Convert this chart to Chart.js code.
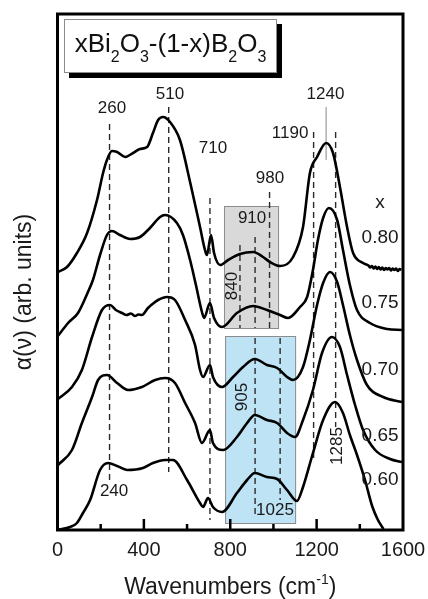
<!DOCTYPE html>
<html>
<head>
<meta charset="utf-8">
<script src="https://cdn.jsdelivr.net/npm/chart.js@4.4.1/dist/chart.umd.min.js"></script>
<style>
  html, body { margin: 0; padding: 0; background: #fff; }
  #wrap { width: 428px; height: 599px; position: relative; }
</style>
</head>
<body>
<div id="wrap"><canvas id="spectra"></canvas></div>
<script>
// IR absorption spectra of xBi2O3-(1-x)B2O3 glasses, curves stacked with offset
const FONT = '"Liberation Sans", Arial, Helvetica, sans-serif';
const xTicks = [0, 400, 800, 1200, 1600];
const compositions = ['0.80', '0.75', '0.70', '0.65', '0.60'];

const wn80 = [2, 44, 90, 137, 183, 211, 229, 252, 276, 313, 350, 382, 415, 442, 466, 489, 521, 567, 614, 660, 683, 692, 711, 725, 753, 790, 845, 906, 952, 984, 1031, 1091, 1137, 1169, 1202, 1244, 1276, 1308, 1341, 1369, 1415, 1440, 1448, 1456, 1464, 1472, 1480, 1488, 1496, 1504, 1512, 1520, 1528, 1536, 1544, 1552, 1560, 1568, 1576, 1584, 1592];
const abs80 = [5.16, 5.26, 5.54, 5.94, 6.60, 7.14, 7.40, 7.58, 7.56, 7.46, 7.54, 7.62, 7.66, 7.94, 8.20, 8.26, 8.16, 7.80, 6.96, 6.06, 5.60, 5.50, 5.90, 5.54, 5.30, 5.40, 5.52, 5.56, 5.46, 5.36, 5.28, 5.46, 6.06, 7.14, 7.46, 7.74, 7.54, 6.86, 6.06, 5.54, 5.34, 5.29, 5.25, 5.28, 5.23, 5.27, 5.22, 5.26, 5.21, 5.25, 5.20, 5.24, 5.21, 5.24, 5.19, 5.23, 5.20, 5.23, 5.18, 5.22, 5.20];

const wn75 = [2, 49, 95, 141, 164, 197, 229, 252, 289, 336, 382, 428, 475, 498, 553, 581, 614, 641, 669, 679, 706, 725, 762, 831, 906, 970, 1031, 1068, 1123, 1156, 1183, 1206, 1230, 1257, 1295, 1322, 1354, 1387, 1447, 1526, 1595];
const abs75 = [3.88, 4.14, 4.34, 4.76, 5.00, 5.50, 5.90, 5.98, 5.90, 5.82, 5.86, 6.04, 6.26, 6.30, 6.14, 5.90, 5.40, 4.90, 4.36, 4.24, 4.54, 4.24, 4.06, 4.34, 4.48, 4.40, 4.30, 4.24, 4.46, 4.66, 5.20, 5.80, 6.24, 6.44, 6.20, 5.60, 4.90, 4.40, 4.14, 4.02, 4.00];

const wn70 = [2, 67, 113, 160, 206, 243, 270, 299, 320, 340, 359, 375, 391, 419, 440, 466, 507, 544, 591, 637, 660, 674, 706, 720, 762, 813, 859, 914, 970, 1017, 1063, 1091, 1137, 1169, 1202, 1230, 1262, 1295, 1322, 1354, 1387, 1433, 1508, 1595];
const abs70 = [2.62, 2.86, 3.20, 3.86, 4.40, 4.50, 4.40, 4.34, 4.30, 4.33, 4.28, 4.31, 4.30, 4.44, 4.52, 4.60, 4.66, 4.60, 4.20, 3.70, 3.20, 3.06, 3.30, 3.06, 2.86, 3.06, 3.26, 3.42, 3.30, 3.24, 3.06, 3.00, 3.26, 3.80, 4.50, 4.94, 5.16, 4.96, 4.50, 3.90, 3.40, 2.90, 2.66, 2.56];

const wn65 = [2, 67, 113, 160, 188, 229, 276, 326, 391, 452, 498, 544, 591, 637, 669, 706, 720, 767, 831, 878, 914, 970, 1017, 1063, 1100, 1137, 1183, 1225, 1271, 1308, 1341, 1378, 1415, 1471, 1540, 1595];
const abs65 = [1.30, 1.60, 2.14, 2.66, 3.00, 3.10, 2.94, 2.80, 2.86, 3.00, 3.04, 2.94, 2.54, 2.14, 1.74, 2.00, 1.74, 1.60, 1.86, 2.14, 2.30, 2.20, 2.14, 1.94, 1.86, 2.20, 2.80, 3.54, 3.86, 3.66, 3.10, 2.50, 2.00, 1.60, 1.42, 1.36];

const wn60 = [2, 58, 90, 118, 151, 197, 234, 276, 322, 396, 442, 498, 535, 600, 660, 674, 697, 720, 762, 831, 878, 914, 970, 1017, 1063, 1109, 1137, 1183, 1230, 1285, 1322, 1354, 1387, 1424, 1457, 1484, 1510];
const abs60 = [0.00, 0.06, 0.14, 0.34, 0.60, 1.20, 1.34, 1.28, 1.20, 1.24, 1.34, 1.40, 1.40, 1.00, 0.54, 0.46, 0.64, 0.46, 0.36, 0.74, 1.00, 1.14, 1.06, 1.02, 0.80, 0.58, 0.86, 1.54, 2.20, 2.56, 2.34, 1.90, 1.50, 1.00, 0.48, 0.20, 0.02];

// vertical dashed guides: band position and vertical extent
const markerWn     = [241, 515, 706, 845, 915, 982, 915, 1031, 1186, 1288];
const markerTop    = [8.12, 8.46, 6.64, 5.70, 5.86, 6.76, 3.84, 3.84, 7.96, 7.96];
const markerBottom = [1.00, 1.16, 0.20, 4.04, 4.04, 4.04, 0.30, 0.60, 1.40, 2.06];
const solidWn = 1244, solidTop = 8.46, solidBottom = 7.40;

// shaded regions
const boxFrom   = [771, 776];
const boxTo     = [1026, 1105];
const boxTop    = [6.48, 3.88];
const boxBottom = [4.02, 0.12];
const boxFill   = ['#d9d9d9', '#bde3f5'];

// band labels
const labelText = ['260', '510', '710', '980', '910', '1190', '1240', '240', '1025'];
const labelWn   = [252, 521, 720, 984, 901, 1077, 1241, 262, 1007];
const labelAbs  = [8.44, 8.72, 7.64, 7.04, 6.24, 7.94, 8.72, 0.78, 0.40];
const vertText  = ['840', '905', '1285'];
const vertWn    = [809, 855, 1295];
const vertAbs   = [4.88, 2.66, 1.68];
const compWn    = 1494;
const compAbs   = [5.84, 4.54, 3.20, 1.88, 1.00];

const curves = [[wn80, abs80], [wn75, abs75], [wn70, abs70], [wn65, abs65], [wn60, abs60]];

const curveSets = curves.map(([wn, a], i) => ({
  label: compositions[i],
  data: wn.map((v, k) => ({ x: v, y: a[k] })),
  borderColor: '#000',
  borderWidth: 2.6,
  pointRadius: 0,
  cubicInterpolationMode: 'monotone',
  fill: false
}));

const markerSets = markerWn.map((w, i) => ({
  data: [{ x: w, y: markerTop[i] }, { x: w, y: markerBottom[i] }],
  borderColor: '#2a2a2a',
  borderWidth: 1.4,
  borderDash: [6, 4],
  pointRadius: 0
}));
markerSets.push({
  data: [{ x: solidWn, y: solidTop }, { x: solidWn, y: solidBottom }],
  borderColor: '#9a9a9a',
  borderWidth: 1.2,
  pointRadius: 0
});

const decor = {
  id: 'decor',
  beforeDatasetsDraw(chart) {
    const { ctx, scales: { x, y } } = chart;
    ctx.save();
    boxFrom.forEach((f, i) => {
      const l = x.getPixelForValue(f), r = x.getPixelForValue(boxTo[i]);
      const t = y.getPixelForValue(boxTop[i]), b = y.getPixelForValue(boxBottom[i]);
      ctx.fillStyle = boxFill[i];
      ctx.fillRect(l, t, r - l, b - t);
      ctx.strokeStyle = '#8c8c8c';
      ctx.lineWidth = 1;
      ctx.strokeRect(l + 0.5, t + 0.5, r - l - 1, b - t - 1);
    });
    ctx.restore();
  },
  afterDatasetsDraw(chart) {
    const { ctx, chartArea: a, scales: { x, y } } = chart;
    ctx.save();

    // frame
    ctx.strokeStyle = '#000';
    ctx.lineWidth = 3;
    ctx.strokeRect(a.left, a.top, a.right - a.left, a.bottom - a.top);

    // inward ticks, major every 400, minor every 200
    ctx.lineWidth = 2.5;
    for (let v = 200; v < 1600; v += 200) {
      const px = x.getPixelForValue(v);
      const len = v % 400 === 0 ? 11 : 6;
      ctx.beginPath();
      ctx.moveTo(px, a.bottom);
      ctx.lineTo(px, a.bottom - len);
      ctx.stroke();
    }

    // band labels
    ctx.fillStyle = '#1a1a1a';
    ctx.textAlign = 'center';
    ctx.textBaseline = 'middle';
    ctx.font = `17px ${FONT}`;
    labelText.forEach((t, i) => ctx.fillText(t, x.getPixelForValue(labelWn[i]), y.getPixelForValue(labelAbs[i])));
    vertText.forEach((t, i) => {
      ctx.save();
      ctx.translate(x.getPixelForValue(vertWn[i]), y.getPixelForValue(vertAbs[i]));
      ctx.rotate(-Math.PI / 2);
      ctx.fillText(t, 0, 0);
      ctx.restore();
    });

    // composition labels
    ctx.font = `19px ${FONT}`;
    const cx = x.getPixelForValue(compWn);
    ctx.fillText('x', cx, y.getPixelForValue(6.54));
    compositions.forEach((c, i) => ctx.fillText(c, cx, y.getPixelForValue(compAbs[i])));

    // formula box with shadow
    const bx = a.left + 6.5, by = a.top + 5, bw = 213, bh = 54;
    ctx.fillStyle = '#000';
    ctx.fillRect(bx + 5, by + 5, bw, bh);
    ctx.fillStyle = '#fff';
    ctx.fillRect(bx, by, bw, bh);
    ctx.strokeStyle = '#8c8c8c';
    ctx.lineWidth = 1;
    ctx.strokeRect(bx + 0.5, by + 0.5, bw - 1, bh - 1);
    const parts = [['xBi', 0], ['2', 1], ['O', 0], ['3', 1], ['-(1-x)B', 0], ['2', 1], ['O', 0], ['3', 1]];
    let total = 0;
    parts.forEach(([t, s]) => { ctx.font = s ? `16px ${FONT}` : `26px ${FONT}`; total += ctx.measureText(t).width; });
    let tx = bx + bw / 2 - total / 2;
    ctx.textAlign = 'left';
    ctx.textBaseline = 'alphabetic';
    ctx.fillStyle = '#111';
    parts.forEach(([t, s]) => {
      ctx.font = s ? `16px ${FONT}` : `26px ${FONT}`;
      ctx.fillText(t, tx, s ? by + 43 : by + 33);
      tx += ctx.measureText(t).width;
    });

    // axis titles
    ctx.fillStyle = '#1a1a1a';
    const xt = [['Wavenumbers (cm', 0], ['-1', 1], [')', 0]];
    total = 0;
    xt.forEach(([t, s]) => { ctx.font = s ? `14px ${FONT}` : `23px ${FONT}`; total += ctx.measureText(t).width; });
    tx = (a.left + a.right) / 2 - total / 2;
    xt.forEach(([t, s]) => {
      ctx.font = s ? `14px ${FONT}` : `23px ${FONT}`;
      ctx.fillText(t, tx, s ? 584 : 594);
      tx += ctx.measureText(t).width;
    });

    ctx.translate(25, 292);
    ctx.rotate(-Math.PI / 2);
    ctx.textAlign = 'center';
    ctx.textBaseline = 'middle';
    ctx.font = `23px ${FONT}`;
    ctx.fillText('\u03B1(\u03BD) (arb. units)', 0, 0);
    ctx.restore();
  }
};

new Chart(document.getElementById('spectra'), {
  type: 'line',
  data: { datasets: [...curveSets, ...markerSets] },
  options: {
    responsive: true,
    maintainAspectRatio: false,
    animation: false,
    layout: { padding: { left: 57.5, right: 25, top: 14, bottom: 0 } },
    plugins: { legend: { display: false }, tooltip: { enabled: false } },
    scales: {
      x: {
        type: 'linear', min: 0, max: 1600,
        afterBuildTicks: s => { s.ticks = xTicks.map(v => ({ value: v })); },
        afterFit: s => { s.height = 69; s.paddingLeft = 0; s.paddingRight = 0; },
        grid: { display: false, drawTicks: false },
        border: { display: false },
        ticks: { padding: 8, autoSkip: false, maxRotation: 0, color: '#1a1a1a', font: { family: FONT, size: 20 }, callback: v => String(v) }
      },
      y: { display: false, min: 0, max: 10.32 }
    }
  },
  plugins: [decor]
});
</script>
</body>
</html>
